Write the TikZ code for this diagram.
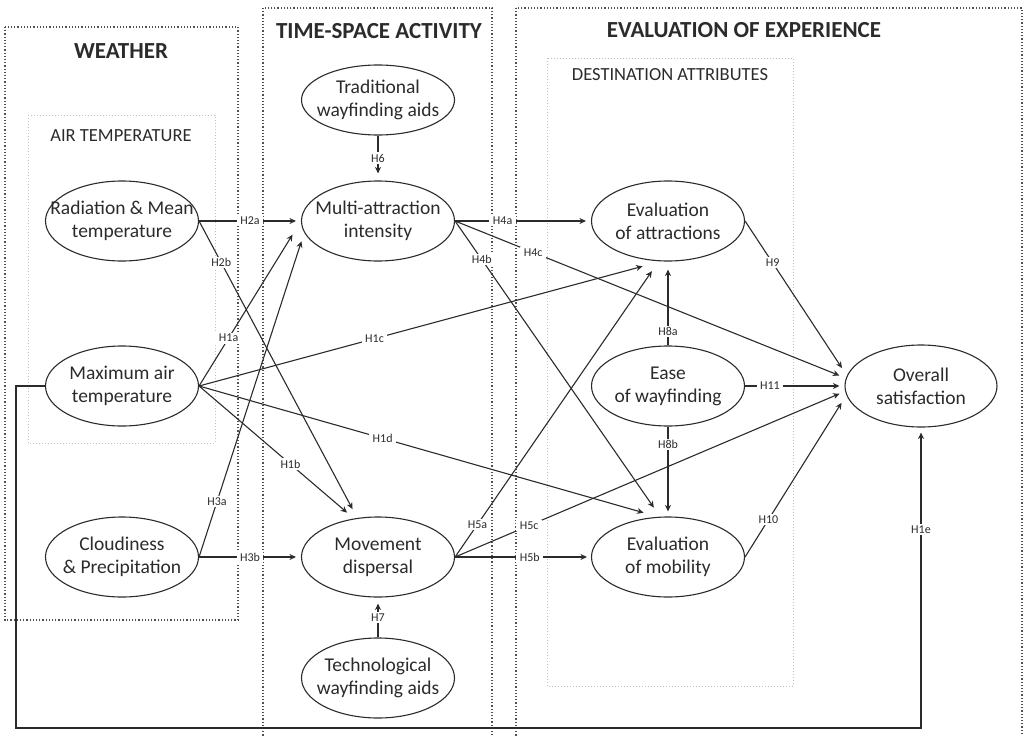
\documentclass[tikz,border=0pt]{standalone}
\usepackage{fontspec}
\setmainfont{Carlito}
\usetikzlibrary{arrows.meta,shapes.geometric}

\definecolor{ink}{HTML}{2B2B2B}
\definecolor{boxgray}{HTML}{505050}
\definecolor{faintgray}{HTML}{C0C0C0}

\begin{document}
\begin{tikzpicture}[
    x=1pt, y=-1pt,
    every node/.style = {font=\fontsize{19.5}{23}\selectfont, text=ink},
    latent/.style     = {ellipse, draw=ink, line width=1.1pt, minimum width=153pt,
                         minimum height=80pt, inner xsep=-30pt, inner ysep=0pt, align=center},
    hyp/.style        = {draw=ink, line width=1.1pt, -{Stealth[length=6.5pt,width=6pt]}, shorten >=5pt},
    hlab/.style       = {fill=white, inner xsep=3.5pt, inner ysep=1.5pt, font=\fontsize{12}{14}\selectfont},
    outerbox/.style   = {draw=boxgray, line width=1.2pt, dotted},
    innerbox/.style   = {draw=faintgray, line width=1pt, dotted},
    heading/.style    = {font=\fontsize{23}{27}\selectfont\bfseries},
    subheading/.style = {font=\fontsize{18.5}{22}\selectfont},
]
\useasboundingbox (0,0) rectangle (1026,736);

% blocks
\draw[outerbox] (5,27) rectangle (238,620);
\draw[outerbox] (263,8) rectangle (492,750);
\draw[outerbox] (516,8) rectangle (1022,750);
\draw[innerbox] (28,115) rectangle (215,443);
\draw[innerbox] (547,58) rectangle (793,686);

\node[heading] (weatherhd) at (121,51) {WEATHER};
\node[heading] (timehd) at (379,31) {TIME-SPACE ACTIVITY};
\node[heading] (evalhd) at (744,30) {EVALUATION OF EXPERIENCE};
\node[subheading] (airhd) at (121,136) {AIR TEMPERATURE};
\node[subheading] (desthd) at (670,75) {DESTINATION ATTRIBUTES};

% constructs
\node[latent] (radmean) at (122,221) {Radiation \& Mean\\temperature};
\node[latent] (maxair) at (122,386) {Maximum air\\temperature};
\node[latent] (cloud) at (122,557) {Cloudiness\\\& Precipitation};
\node[latent, minimum height=70pt] (tradaids) at (378,100) {Traditional\\wayfinding aids};
\node[latent] (multi) at (378,221) {Multi-attraction\\intensity};
\node[latent] (movedisp) at (378,557) {Movement\\dispersal};
\node[latent] (techaids) at (378,678) {Technological\\wayfinding aids};
\node[latent] (evalattr) at (668,221) {Evaluation\\of attractions};
\node[latent] (ease) at (668,386) {Ease\\of wayfinding};
\node[latent] (evalmob) at (668,557) {Evaluation\\of mobility};
\node[latent, minimum width=152pt, minimum height=82pt] (overall) at (921,386) {Overall\\satisfaction};

% hypotheses
\draw[hyp] (radmean.east) -- node[hlab] {H2a} (multi.west);
\draw[hyp, shorten >=10pt] (radmean.east) -- node[hlab, pos=0.14] {H2b} (movedisp.118);
\draw[hyp, shorten >=16pt] (maxair.east) -- node[hlab, pos=0.29] {H1a} (multi.west);
\draw[hyp, shorten >=9pt] (maxair.east) -- node[hlab, pos=0.59] {H1b} (movedisp.122);
\draw[hyp, shorten >=19pt] (maxair.east) -- node[hlab, pos=0.38] {H1c} (evalattr.260);
\draw[hyp, shorten >=15pt] (maxair.east) -- node[hlab, pos=0.4] {H1d} (evalmob.104);
\draw[hyp, shorten >=9pt] (cloud.east) -- node[hlab, pos=0.17] {H3a} (multi.189);
\draw[hyp] (cloud.east) -- node[hlab] {H3b} (movedisp.west);
\draw[hyp, shorten >=7pt] (tradaids.south) -- node[hlab] {H6} (multi.north);
\draw[hyp, shorten >=6pt] (techaids.north) -- node[hlab] {H7} (movedisp.south);
\draw[hyp] (multi.east) -- node[hlab, pos=0.35] {H4a} (evalattr.west);
\draw[hyp, shorten >=11pt] (multi.east) -- node[hlab, pos=0.13] {H4b} (evalmob.101);
\draw[hyp, shorten >=7pt] (multi.east) -- node[hlab, pos=0.2] {H4c} (overall.174);
\draw[hyp, shorten >=12pt] (movedisp.east) -- node[hlab, pos=0.11] {H5a} (evalattr.257);
\draw[hyp, shorten >=4pt] (movedisp.east) -- node[hlab, pos=0.55] {H5b} (evalmob.west);
\draw[hyp, shorten >=6pt] (movedisp.east) -- node[hlab, pos=0.19] {H5c} (overall.184);
\draw[hyp, shorten >=8pt] (ease.north) -- node[hlab, pos=0.17] {H8a} (evalattr.south);
\draw[hyp] (ease.south) -- node[hlab, pos=0.2] {H8b} (evalmob.north);
\draw[hyp] (ease.east) -- node[hlab, pos=0.25] {H11} (overall.west);
\draw[hyp, shorten >=9pt] (evalattr.east) -- node[hlab, pos=0.27] {H9} (overall.172);
\draw[hyp, shorten >=9pt] (evalmob.east) -- node[hlab, pos=0.23] {H10} (overall.187);
\coordinate (loopcorner) at (16,728);
\draw[hyp] (maxair.west) -| (loopcorner) -| node[hlab, pos=0.83] {H1e} (overall.south);
\end{tikzpicture}
\end{document}
